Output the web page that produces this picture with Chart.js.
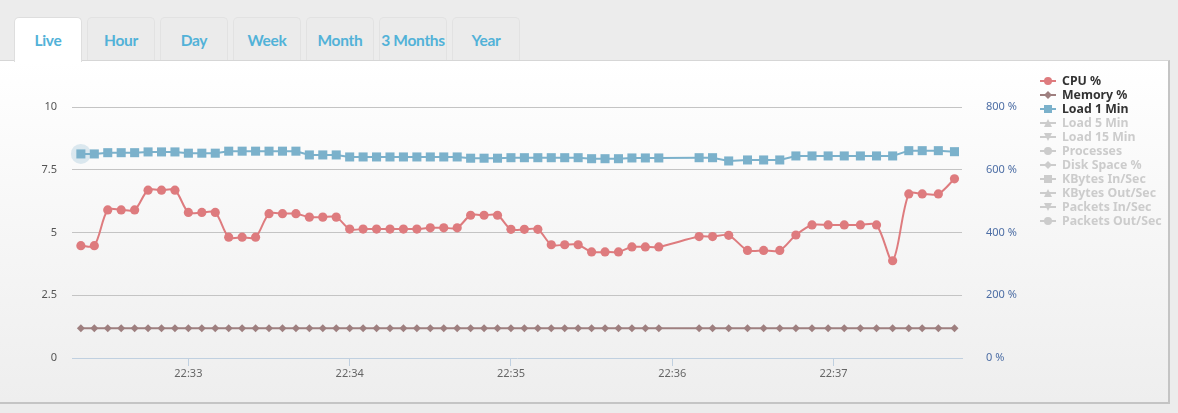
<!DOCTYPE html>
<html><head><meta charset="utf-8">
<script src="https://cdn.jsdelivr.net/npm/chart.js@4.4.1/dist/chart.umd.min.js"></script>
<style>
html,body{margin:0;padding:0;}
body{width:1178px;height:413px;background:#ececec;position:relative;overflow:hidden;font-family:"Noto Sans",sans-serif;}
.tab{position:absolute;top:17px;height:44px;width:68px;box-sizing:border-box;border:1px solid #e2e2e2;border-bottom:none;border-radius:5px 5px 0 0;background:#ebebeb;color:#52b2d8;font:700 15.5px Lato,sans-serif;text-align:center;line-height:44px;white-space:nowrap;letter-spacing:-0.3px;}
.tab.active{background:#fff;z-index:3;height:45px;border-color:#dedede;}
#panel{position:absolute;left:0;top:60px;width:1168px;height:341px;background:linear-gradient(#ffffff,#eeeeee);border-top:1px solid #d6d6d6;border-right:2px solid #c4c4c4;border-bottom:2px solid #c4c4c4;z-index:1;}
#wrap{position:absolute;left:0;top:0;width:1178px;height:413px;z-index:2;}
#legend{position:absolute;left:1040px;top:74px;z-index:4;font:700 12.3px "Noto Sans",sans-serif;}
.li{height:14px;line-height:14px;display:flex;align-items:center;white-space:nowrap;}
.li svg{width:18px;height:10px;margin-right:4px;flex:none;}
</style>
</head><body>
<div id="tabs"></div>
<div id="panel"></div>
<div id="wrap"><canvas id="c" width="1178" height="413"></canvas></div>
<div id="legend"></div>
<script>
// ---- data ----
const tabNames = ['Live','Hour','Day','Week','Month','3 Months','Year'];
const times = [
 '22:32:20','22:32:25','22:32:30','22:32:35','22:32:40','22:32:45','22:32:50','22:32:55',
 '22:33:00','22:33:05','22:33:10','22:33:15','22:33:20','22:33:25','22:33:30','22:33:35',
 '22:33:40','22:33:45','22:33:50','22:33:55','22:34:00','22:34:05','22:34:10','22:34:15',
 '22:34:20','22:34:25','22:34:30','22:34:35','22:34:40','22:34:45','22:34:50','22:34:55',
 '22:35:00','22:35:05','22:35:10','22:35:15','22:35:20','22:35:25','22:35:30','22:35:35',
 '22:35:40','22:35:45','22:35:50','22:35:55',
 '22:36:10','22:36:15','22:36:21','22:36:28','22:36:34','22:36:40','22:36:46','22:36:52',
 '22:36:58','22:37:04','22:37:10','22:37:16','22:37:22','22:37:28','22:37:33','22:37:39','22:37:45'
];
const cpuPct = [
 358,358,472,472,472,535,535,535,
 464,464,464,385,385,385,460,460,
 460,449,449,449,411,411,411,411,
 411,411,415,415,415,455,455,455,
 410,410,410,361,361,361,338,338,
 338,354,354,354,
 387,387,391,343,343,343,392,424,
 424,424,424,424,310,523,523,523,571
];
const memPct = [
 95,95,95,95,95,95,95,95,95,95,95,95,95,95,95,95,95,95,95,95,95,95,
 95,95,95,95,95,95,95,95,95,95,95,95,95,95,95,95,95,95,95,95,95,95,
 95,95,95,95,95,95,95,95,95,95,95,95,95,95,95,95,95
];
const load1 = [
 8.13,8.13,8.18,8.18,8.18,8.21,8.21,8.21,
 8.16,8.16,8.16,8.24,8.24,8.24,8.24,8.24,
 8.24,8.09,8.09,8.09,8.01,8.01,8.01,8.01,
 8.01,8.01,8.01,8.01,8.01,7.96,7.96,7.96,
 7.98,7.98,7.98,7.98,7.98,7.98,7.94,7.94,
 7.94,7.97,7.97,7.97,
 7.98,7.98,7.85,7.89,7.89,7.89,8.05,8.05,
 8.05,8.05,8.05,8.05,8.05,8.26,8.26,8.26,8.22
];
const xTickLabels = ['22:33','22:34','22:35','22:36','22:37'];
const leftTicks = [0,2.5,5,7.5,10];
const rightTicks = [0,200,400,600,800];
const seriesNames = ['CPU %','Memory %','Load 1 Min','Load 5 Min','Load 15 Min','Processes','Disk Space %','KBytes In/Sec','KBytes Out/Sec','Packets In/Sec','Packets Out/Sec'];
const seriesSymbols = ['circle','diamond','square','triangle','triangle-down','circle','diamond','square','triangle','triangle-down','circle'];

// ---- tabs ----
const tabLeft = [14,87,160,233,306,379,452];
document.getElementById('tabs').innerHTML = tabNames.map((t,i)=>
  `<div class="tab${i===0?' active':''}" style="left:${tabLeft[i]}px">${t}</div>`).join('');

function toSec(t){const p=t.split(':').map(Number);return p[0]*3600+p[1]*60+(p[2]||0);}
const pts = arr => times.map((t,i)=>({x:toSec(t), y:arr[i]}));

const CPU_C='#de7b7e', MEM_C='#9e7f7f', LOAD_C='#7bb1cb';
const styleMap = {circle:'circle', diamond:'rectRot', square:'rect', triangle:'triangle', 'triangle-down':'triangle'};

const datasets = [
 {label:seriesNames[0], data:pts(cpuPct), yAxisID:'yR', borderColor:CPU_C, backgroundColor:CPU_C, pointStyle:'circle', pointRadius:4.6, pointBorderWidth:0, borderWidth:2, tension:0.3},
 {label:seriesNames[1], data:pts(memPct), yAxisID:'yR', borderColor:MEM_C, backgroundColor:MEM_C, pointStyle:'rectRot', pointRadius:4, pointBorderWidth:0, borderWidth:2, tension:0},
 {label:seriesNames[2], data:pts(load1), yAxisID:'yL', borderColor:LOAD_C, backgroundColor:LOAD_C, pointStyle:'rect', pointRadius:6.4, pointBorderWidth:0, borderWidth:2, tension:0},
];
for(let i=3;i<seriesNames.length;i++){
  datasets.push({label:seriesNames[i], data:[], yAxisID:'yL', hidden:true, pointStyle:styleMap[seriesSymbols[i]], borderColor:'#ccc', backgroundColor:'#ccc'});
}

const haloPlugin = {
  id:'halo',
  beforeDatasetsDraw(chart){
    const el = chart.getDatasetMeta(2).data[0];
    if(!el) return;
    const ctx = chart.ctx;
    ctx.save();
    ctx.fillStyle='rgba(123,177,203,0.25)';
    ctx.beginPath(); ctx.arc(el.x, el.y, 10, 0, Math.PI*2); ctx.fill();
    ctx.restore();
  }
};

const xMin = toSec(times[0]) - 3.3, xMax = toSec(times[times.length-1]) + 2.8;

const chart = new Chart(document.getElementById('c'), {
  type:'line',
  data:{datasets},
  options:{
    responsive:false, animation:false, events:[],
    layout:{padding:{top:107,bottom:25,left:0,right:0}},
    plugins:{legend:{display:false}, tooltip:{enabled:false}},
    scales:{
      x:{type:'linear', position:'bottom', min:xMin, max:xMax,
        afterBuildTicks:s=>{s.ticks = xTickLabels.map(l=>({value:toSec(l)}));},
        ticks:{includeBounds:false, autoSkip:false, maxRotation:0, color:'#666', padding:1,
          font:{family:'"Noto Sans", sans-serif', size:11},
          callback:(v)=>{const m=Math.round(v/60);return String(Math.floor(m/60)).padStart(2,'0')+':'+String(m%60).padStart(2,'0');}},
        grid:{drawOnChartArea:false, drawTicks:true, tickLength:8, color:'#c0d0e0'},
        border:{display:true, color:'#c0d0e0', width:1},
        afterFit:s=>{s.height=30;}
      },
      yL:{type:'linear', position:'left', min:0, max:10,
        afterBuildTicks:s=>{s.ticks = leftTicks.map(v=>({value:v}));},
        ticks:{color:'#555', padding:15, font:{family:'"Noto Sans", sans-serif', size:11}},
        grid:{drawTicks:false, color:c=>c.tick && c.tick.value===0 ? 'rgba(0,0,0,0)' : '#c4c4c4'},
        border:{display:false},
        afterFit:s=>{s.width=72;}
      },
      yR:{type:'linear', position:'right', min:0, max:800,
        afterBuildTicks:s=>{s.ticks = rightTicks.map(v=>({value:v}));},
        ticks:{color:'#4d6ea5', padding:16, font:{family:'"Noto Sans", sans-serif', size:11}, callback:v=>v+' %'},
        grid:{display:false, drawOnChartArea:false},
        border:{display:false},
        afterFit:s=>{s.width=1178-962;}
      }
    }
  },
  plugins:[haloPlugin]
});

// ---- legend ----
function sym(kind,color){
  let m='';
  if(kind==='circle') m=`<circle cx="8" cy="5" r="4" fill="${color}"/>`;
  else if(kind==='square') m=`<rect x="4" y="1" width="8" height="8" fill="${color}"/>`;
  else if(kind==='diamond') m=`<polygon points="8,1 12,5 8,9 4,5" fill="${color}"/>`;
  else if(kind==='triangle') m=`<polygon points="8,1 12,9 4,9" fill="${color}"/>`;
  else m=`<polygon points="4,1 12,1 8,9" fill="${color}"/>`;
  return `<svg viewBox="0 0 18 10"><line x1="0" y1="5" x2="16" y2="5" stroke="${color}" stroke-width="2"/>${m}</svg>`;
}
document.getElementById('legend').innerHTML = chart.data.datasets.map((d,i)=>{
  const vis = !d.hidden;
  const col = vis ? d.borderColor : '#cccccc';
  return `<div class="li">${sym(seriesSymbols[i], col)}<span style="color:${vis?'#333':'#cccccc'}">${d.label}</span></div>`;
}).join('');
</script>
</body></html>
